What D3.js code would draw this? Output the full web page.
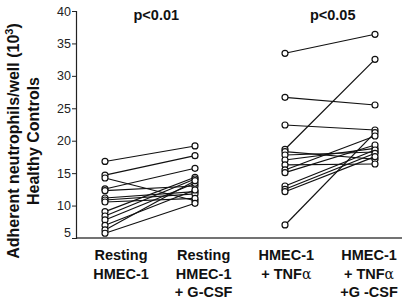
<!DOCTYPE html>
<html>
<head>
<meta charset="utf-8">
<script src="https://cdn.jsdelivr.net/npm/d3@7"></script>
<style>
  html, body { margin: 0; padding: 0; background: #fff; }
  svg { display: block; }
  text { font-family: Arial, "Liberation Sans", Helvetica, sans-serif; }
</style>
</head>
<body>
<svg id="chart" width="404" height="300"></svg>
<script>
// ---- data ----
const categories = ["Resting HMEC-1", "Resting HMEC-1 + G-CSF", "HMEC-1 + TNFα", "HMEC-1 + TNFα + G-CSF"];
const categoryLabelLines = [
  ["Resting", "HMEC-1"],
  ["Resting", "HMEC-1", "+ G-CSF"],
  ["HMEC-1", "+ TNF|α"],
  ["HMEC-1", "+ TNF|α", "+G -CSF"]
];
// paired measurements (x10^3 adherent neutrophils/well)
const restingValues      = [16.8, 14.7, 14.25, 12.56, 12.3, 11.17, 10.86, 10.55, 9.06, 8.39, 7.78, 6.96, 6.24, 5.73];
const restingGcsfValues  = [19.19, 17.69, 10.75, 15.75, 13.02, 12.14, 11.79, 11.12, 14.36, 14.10, 13.44, 12.40, 13.84, 10.35];
const tnfValues          = [33.48, 26.69, 22.42, 18.68, 7.01, 18.31, 17.80, 17.03, 16.26, 15.49, 15.07, 13.02, 12.51, 12.14];
const tnfGcsfValues      = [36.41, 25.51, 21.65, 32.55, 21.24, 17.14, 18.26, 18.83, 16.41, 20.73, 19.34, 18.57, 18.06, 17.54];
const yTicks = [5, 10, 15, 20, 25, 30, 35, 40];
const pValues = [
  { text: "p<0.01", pos: 0.57 },
  { text: "p<0.05", pos: 2.53 }
];
const yTitleLines = ["Adherent neutrophils/well (10|3|)", "Healthy Controls"];

// ---- layout ----
const svg = d3.select("#chart");
const axisX = 76;
const x = d3.scaleLinear().domain([0, 3]).range([105, 375]);
const xLabel = d3.scaleLinear().domain([0, 3]).range([121, 369]);
const y = d3.scaleLinear().domain([5, 40]).range([238, 11]);

// x axis line
svg.append("line")
  .attr("x1", axisX).attr("x2", 402)
  .attr("y1", y(5)).attr("y2", y(5))
  .attr("stroke", "#444").attr("stroke-width", 1.6);

// y axis
const yAxis = d3.axisLeft(y).tickValues(yTicks).tickSize(4).tickPadding(1).tickFormat(d3.format("d"));
const gy = svg.append("g").attr("transform", `translate(${axisX},0)`).call(yAxis);
gy.select(".domain").attr("stroke", "#222").attr("stroke-width", 1.2);
gy.selectAll(".tick line").attr("stroke", "#222").attr("stroke-width", 1);
gy.selectAll(".tick text")
  .attr("font-size", 12.5)
  .attr("font-family", "Arial, 'Liberation Sans', sans-serif")
  .attr("fill", "#222");
// lift the bottom "5" label slightly as in the reference
gy.selectAll(".tick text").filter(d => d === 5).attr("dy", "-0.1em");

// pairs
const groups = [
  { a: 0, b: 1, va: restingValues, vb: restingGcsfValues },
  { a: 2, b: 3, va: tnfValues, vb: tnfGcsfValues }
];
groups.forEach(g => {
  const pairs = g.va.map((v, i) => ({ v1: v, v2: g.vb[i] }));
  svg.append("g").selectAll("line").data(pairs).enter().append("line")
    .attr("x1", x(g.a)).attr("x2", x(g.b))
    .attr("y1", d => y(d.v1)).attr("y2", d => y(d.v2))
    .attr("stroke", "#111").attr("stroke-width", 1.2);
  svg.append("g").selectAll("circle").data(g.va).enter().append("circle")
    .attr("cx", x(g.a)).attr("cy", d => y(d)).attr("r", 3)
    .attr("fill", "#fff").attr("stroke", "#111").attr("stroke-width", 1.2);
  svg.append("g").selectAll("circle").data(g.vb).enter().append("circle")
    .attr("cx", x(g.b)).attr("cy", d => y(d)).attr("r", 3)
    .attr("fill", "#fff").attr("stroke", "#111").attr("stroke-width", 1.2);
});

// p values
svg.append("g").selectAll("text").data(pValues).enter().append("text")
  .attr("x", d => x(d.pos)).attr("y", 20)
  .attr("text-anchor", "middle")
  .attr("font-weight", "bold").attr("font-size", 14.5).attr("fill", "#111")
  .text(d => d.text);

// category labels
categoryLabelLines.forEach((lines, i) => {
  const t = svg.append("text")
    .attr("text-anchor", "middle")
    .attr("font-weight", "bold").attr("font-size", 14.5).attr("fill", "#111");
  lines.forEach((ln, j) => {
    const parts = ln.split("|");
    const ts = t.append("tspan").attr("x", xLabel(i)).attr("y", 260 + j * 18.5).text(parts[0]);
    if (parts.length > 1) {
      t.append("tspan").attr("font-weight", "normal").attr("font-family", "'DejaVu Serif', serif").attr("font-size", 14).text(parts[1]);
    }
  });
});

// y title (rotated)
const yTitle = svg.append("g").attr("transform", "translate(0,141) rotate(-90)");
yTitleLines.forEach((ln, j) => {
  const t = yTitle.append("text")
    .attr("x", 0).attr("y", 19 + j * 20)
    .attr("text-anchor", "middle")
    .attr("font-weight", "bold").attr("font-size", 16).attr("fill", "#111");
  const parts = ln.split("|");
  t.append("tspan").text(parts[0]);
  if (parts.length > 1) {
    t.append("tspan").attr("font-size", 11).attr("dy", "-0.55em").text(parts[1]);
    t.append("tspan").attr("dy", "0.35em").text(parts[2]);
  }
});
</script>
</body>
</html>
